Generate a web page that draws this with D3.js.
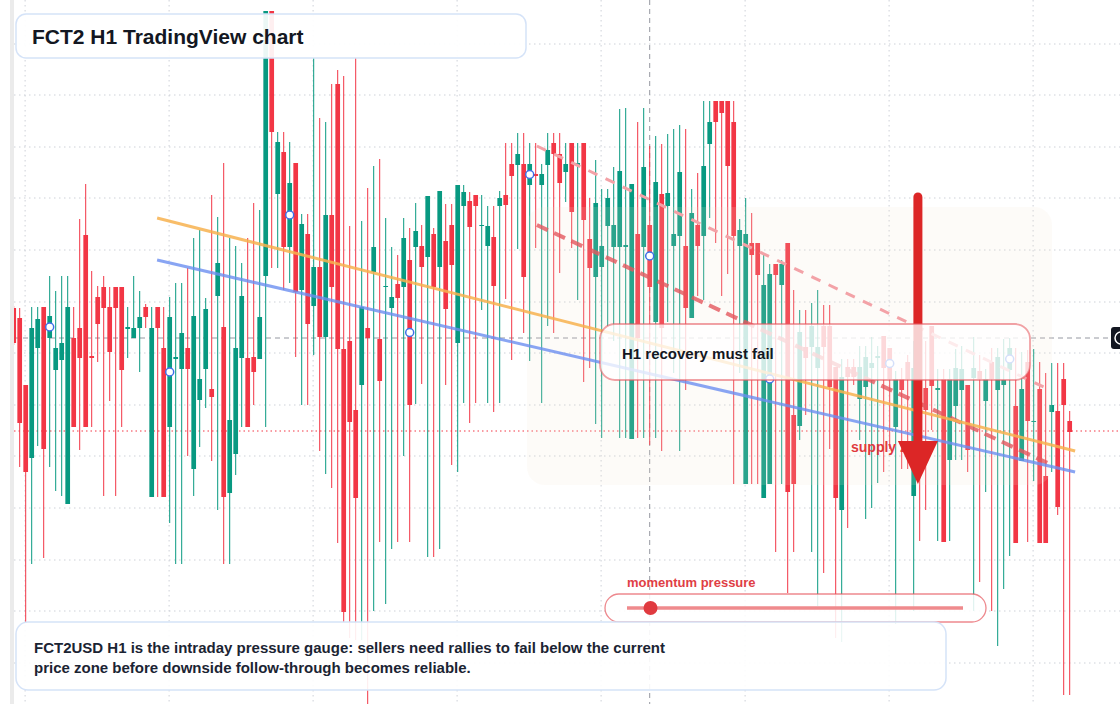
<!DOCTYPE html>
<html>
<head>
<meta charset="utf-8">
<script src="https://cdn.jsdelivr.net/npm/d3@7"></script>
<style>
  html, body { margin: 0; padding: 0; background: #ffffff; }
  svg { display: block; font-family: "Liberation Sans", Arial, sans-serif; }
</style>
</head>
<body>
<svg id="chart" width="1120" height="704"></svg>
<script>
// FCT2USD hourly candles (oldest -> newest)
const opens = [
  .692,.682,.615,.542,.652,.693,.662,.630,.640,.496,
  .662,.672,.765,.644,.703,.713,.693,.713,.713,.671,
  .662,.672,.693,.503,.693,.652,.573,.641,.631,.652,
  .531,.600,.631,.611,.704,.673,.507,.546,.642,.642,
  .643,.641,.724,.989,.806,.848,.753,.837,.710,.766,
  .694,.733,.663,.785,.916,.651,.659,.590,.615,.672,
  .728,.661,.713,.692,.716,.713,.740,.753,.754,.743,
  .766,.733,.759,.775,.657,.794,.799,.805,.774,.754,
  .763,.794,.805,.836,.835,.836,.815,.826,.815,.835,
  .857,.846,.828,.857,.835,.857,.761,.723,.733,.774,
  .753,.753,.753,.561,.766,.753,.775,.678,.806,.794,
  .754,.764,.754,.682,.775,.764,.856,.899,.899,.899,
  .878,.754,.516,.757,.757,.502,.516,.736,.715,.757,
  .585,.574,.653,.653,.632,.674,.674,.633,.490,.633,
  .633,.601,.613,.632,.642,.664,.652,.573,.621,.638,
  .504,.640,.612,.674,.610,.621,.540,.594,.610,.615,
  .622,.629,.599,.638,.610,.615,.630,.594,.539,.638,
  .578,.611,.524,.588,.589,.621,.579
];
const highs = [
  .694,.692,.615,.693,.693,.693,.724,.709,.724,.724,
  .693,.781,.816,.729,.714,.724,.713,.713,.713,.693,
  .724,.709,.696,.693,.693,.693,.703,.717,.717,.732,
  .762,.770,.702,.805,.783,.837,.762,.754,.737,.762,
  .797,.790,.989,.989,.868,.868,.858,.837,.786,.786,
  .942,.882,.878,.916,.930,.924,.774,.942,.779,.812,
  .834,.841,.782,.753,.745,.782,.772,.797,.775,.804,
  .772,.809,.796,.796,.815,.815,.808,.805,.805,.794,
  .794,.809,.857,.857,.867,.867,.857,.857,.836,.867,
  .867,.867,.857,.857,.857,.857,.802,.840,.811,.811,
  .833,.891,.892,.816,.878,.892,.854,.864,.856,.866,
  .871,.875,.871,.811,.827,.899,.899,.899,.899,.899,
  .899,.781,.802,.787,.757,.745,.736,.736,.740,.757,
  .710,.690,.690,.697,.710,.695,.695,.633,.641,.641,
  .641,.654,.654,.663,.654,.664,.652,.629,.632,.645,
  .659,.660,.659,.674,.631,.631,.631,.651,.654,.615,
  .663,.645,.631,.652,.652,.661,.662,.652,.648,.650,
  .651,.638,.627,.637,.637,.637,.589
];
const lows = [
  .655,.533,.378,.436,.554,.442,.533,.509,.504,.496,
  .573,.550,.573,.573,.638,.504,.599,.504,.573,.642,
  .662,.628,.672,.503,.503,.503,.477,.436,.436,.544,
  .504,.553,.592,.539,.490,.436,.436,.525,.573,.573,
  .595,.641,.573,.732,.732,.710,.717,.643,.595,.595,
  .645,.549,.526,.512,.457,.378,.362,.360,.360,.296,
  .389,.458,.396,.451,.458,.544,.458,.596,.616,.443,
  .443,.451,.615,.535,.528,.597,.577,.597,.690,.597,
  .588,.597,.701,.640,.751,.667,.639,.752,.597,.674,
  .667,.727,.798,.752,.700,.618,.632,.576,.562,.674,
  .659,.562,.562,.561,.562,.562,.555,.562,.549,.678,
  .627,.549,.610,.682,.704,.700,.782,.757,.704,.726,
  .516,.627,.516,.516,.516,.502,.516,.448,.516,.407,
  .448,.560,.585,.448,.394,.427,.551,.362,.358,.472,
  .615,.560,.481,.492,.517,.528,.551,.376,.531,.531,
  .389,.459,.490,.570,.459,.458,.459,.540,.540,.528,
  .389,.418,.508,.389,.354,.411,.444,.457,.539,.458,
  .519,.457,.457,.528,.485,.305,.305
];
const closes = [
  .657,.577,.528,.672,.681,.551,.684,.652,.657,.693,
  .573,.642,.573,.642,.676,.692,.648,.692,.630,.673,
  .672,.683,.683,.672,.672,.503,.683,.643,.667,.631,
  .684,.621,.691,.603,.737,.503,.580,.652,.704,.573,
  .628,.683,.989,.868,.858,.753,.817,.708,.776,.676,
  .733,.663,.785,.713,.651,.388,.578,.502,.693,.662,
  .753,.619,.714,.703,.702,.762,.595,.769,.733,.804,
  .713,.809,.691,.735,.815,.808,.773,.794,.775,.774,
  .714,.802,.795,.824,.846,.723,.836,.824,.826,.850,
  .846,.817,.836,.788,.837,.780,.732,.797,.754,.802,
  .775,.829,.755,.816,.662,.833,.713,.818,.672,.807,
  .766,.828,.692,.787,.754,.834,.878,.878,.887,.834,
  .764,.770,.766,.745,.725,.715,.726,.725,.736,.508,
  .516,.668,.642,.674,.653,.653,.613,.502,.623,.623,
  .623,.633,.643,.637,.644,.632,.621,.621,.610,.621,
  .632,.580,.590,.614,.612,.458,.621,.632,.631,.550,
  .632,.621,.621,.621,.643,.620,.652,.457,.611,.579,
  .579,.457,.457,.595,.493,.595,.568
];

// session grid (bar index) and price grid levels
const sessionTicks = [1.9, 25.9, 49.9, 73.9, 97.9, 121.9, 145.9, 169.9];
const priceGrid = [0.956, 0.905, 0.853, 0.802, 0.750, 0.698, 0.647, 0.595, 0.544, 0.492, 0.440, 0.389, 0.337];

// annotations: [bar index, price]
const orangeTrend = [[23.9, 0.782], [176.9, 0.549]];
const blueTrend = [[23.9, 0.740], [176.9, 0.528]];
const redChannel = [[87.2, 0.775], [173.0, 0.535]];
const paleChannel = [[87.2, 0.854], [172.7, 0.610]];
const supplyZone = { from: 85.55, to: 173.05, top: 0.793, bottom: 0.515 };
const markerBars = [6, 26, 46, 66, 86, 106, 126, 146, 166];
const crossBar = 106, crossPrice = 0.662;
const alertLevel = 0.569;
const arrowBar = 150.7, arrowFrom = 0.803, arrowTip = 0.516, arrowHeadBase = 0.559;
const momentum = 0.07;

const W = 1120, H = 704;
const GREEN = "#089981", RED = "#f23645";

const svg = d3.select("#chart");
const x = d3.scaleLinear().domain([0, opens.length - 1]).range([13.7, 1069.7]);
const y = d3.scaleLinear().domain([1, 0.296]).range([0, H]);

svg.append("rect").attr("width", W).attr("height", H).attr("fill", "#ffffff");
svg.append("rect").attr("x", 10).attr("width", 4).attr("height", H).attr("fill", "#ebebeb");

// grid
const grid = svg.append("g").attr("stroke", "#cdd1d8").attr("stroke-dasharray", "1.5 3.5");
grid.selectAll(".gx").data(sessionTicks).join("line")
  .attr("x1", d => x(d)).attr("x2", d => x(d)).attr("y1", 0).attr("y2", H);
grid.selectAll(".gy").data(priceGrid).join("line")
  .attr("x1", 14).attr("x2", W).attr("y1", d => y(d)).attr("y2", d => y(d));

// crosshair + alert level
svg.append("line").attr("x1", x(crossBar)).attr("x2", x(crossBar)).attr("y1", 0).attr("y2", H)
  .attr("stroke", "#9598a1").attr("stroke-dasharray", "5 4");
svg.append("line").attr("x1", 14).attr("x2", 1110).attr("y1", y(crossPrice)).attr("y2", y(crossPrice))
  .attr("stroke", "#9598a1").attr("stroke-dasharray", "5 4");
svg.append("line").attr("x1", 14).attr("x2", W).attr("y1", y(alertLevel)).attr("y2", y(alertLevel))
  .attr("stroke", RED).attr("stroke-dasharray", "1.5 3");

// candles
svg.append("clipPath").attr("id", "plot").append("rect").attr("x", 14).attr("y", 0).attr("width", W - 14).attr("height", H);
const bars = d3.range(opens.length).map(i => ({ i, o: opens[i], h: highs[i], l: lows[i], c: closes[i] }));
const cg = svg.append("g").attr("clip-path", "url(#plot)");
const bw = 4.7;
cg.selectAll(".wick").data(bars).join("line")
  .attr("x1", d => x(d.i)).attr("x2", d => x(d.i))
  .attr("y1", d => y(d.h)).attr("y2", d => y(d.l))
  .attr("stroke", d => d.c >= d.o ? GREEN : RED).attr("stroke-width", 1);
cg.selectAll(".body").data(bars).join("rect")
  .attr("x", d => x(d.i) - bw / 2).attr("width", bw)
  .attr("y", d => y(Math.max(d.o, d.c)))
  .attr("height", d => Math.max(1, Math.abs(y(d.o) - y(d.c))))
  .attr("fill", d => d.c >= d.o ? GREEN : RED);

// supply zone overlay
svg.append("rect")
  .attr("x", x(supplyZone.from)).attr("y", y(supplyZone.top))
  .attr("width", x(supplyZone.to) - x(supplyZone.from))
  .attr("height", y(supplyZone.bottom) - y(supplyZone.top))
  .attr("rx", 18).attr("fill", "rgb(240,225,210)").attr("fill-opacity", 0.15);

// trend lines
const line = d3.line().x(d => x(d[0])).y(d => y(d[1]));
svg.append("path").attr("d", line(paleChannel)).attr("fill", "none")
  .attr("stroke", "#f3a2a7").attr("stroke-width", 3).attr("stroke-dasharray", "10 9");
svg.append("path").attr("d", line(redChannel)).attr("fill", "none")
  .attr("stroke", "#e4585e").attr("stroke-opacity", 0.8).attr("stroke-width", 4).attr("stroke-dasharray", "12 7");
svg.append("path").attr("d", line(orangeTrend)).attr("fill", "none")
  .attr("stroke", "#f7b24f").attr("stroke-opacity", 0.85).attr("stroke-width", 3);
svg.append("path").attr("d", line(blueTrend)).attr("fill", "none")
  .attr("stroke", "#6b8ff0").attr("stroke-opacity", 0.8).attr("stroke-width", 3);

// markers at body midpoints
svg.selectAll(".mk").data(markerBars).join("circle")
  .attr("cx", d => x(d)).attr("cy", d => y((opens[d] + closes[d]) / 2)).attr("r", 4)
  .attr("fill", "#ffffff").attr("stroke", "#3d6fe8").attr("stroke-width", 1.5);

// supply zone label + arrow
svg.append("text").attr("x", 851).attr("y", 452).attr("fill", "#e0393e")
  .attr("font-size", 14).attr("font-weight", "bold").text("supply zone");
svg.append("line").attr("x1", x(arrowBar)).attr("x2", x(arrowBar))
  .attr("y1", y(arrowFrom)).attr("y2", y(arrowHeadBase) + 4)
  .attr("stroke", "#dc2626").attr("stroke-width", 9).attr("stroke-linecap", "round");
svg.append("path")
  .attr("d", `M${x(arrowBar) - 20},${y(arrowHeadBase)} L${x(arrowBar) + 20},${y(arrowHeadBase)} L${x(arrowBar)},${y(arrowTip)} Z`)
  .attr("fill", "#dc2626");

// H1 callout
svg.append("rect").attr("x", 600).attr("y", 324).attr("width", 430).attr("height", 56).attr("rx", 15)
  .attr("fill", "#ffffff").attr("fill-opacity", 0.78)
  .attr("stroke", "#e6555d").attr("stroke-opacity", 0.55).attr("stroke-width", 1.8);
svg.append("text").attr("x", 622).attr("y", 359).attr("fill", "#131722")
  .attr("font-size", 15).attr("font-weight", "bold").text("H1 recovery must fail");

// momentum gauge
const m = d3.scaleLinear().domain([0, 1]).range([627, 963]);
svg.append("text").attr("x", 627).attr("y", 587).attr("fill", "#e03e45")
  .attr("font-size", 13).attr("font-weight", "bold").text("momentum pressure");
svg.append("rect").attr("x", 605).attr("y", 594).attr("width", 381).attr("height", 28).attr("rx", 14)
  .attr("fill", "#ffffff").attr("fill-opacity", 0.85)
  .attr("stroke", "#e6555d").attr("stroke-opacity", 0.7).attr("stroke-width", 1.3);
svg.append("line").attr("x1", m(0)).attr("x2", m(1)).attr("y1", 608).attr("y2", 608)
  .attr("stroke", "#ef8a8d").attr("stroke-width", 3.5);
svg.append("circle").attr("cx", m(momentum)).attr("cy", 608).attr("r", 7).attr("fill", "#e03a3f");

// title + notes
svg.append("rect").attr("x", 16).attr("y", 14).attr("width", 510).attr("height", 44).attr("rx", 10)
  .attr("fill", "#ffffff").attr("fill-opacity", 0.92).attr("stroke", "#d5e3f8").attr("stroke-width", 1.5);
svg.append("text").attr("x", 32).attr("y", 44).attr("fill", "#131722")
  .attr("font-size", 21).attr("font-weight", "bold").text("FCT2 H1 TradingView chart");

svg.append("rect").attr("x", 16).attr("y", 622).attr("width", 930).attr("height", 68).attr("rx", 12)
  .attr("fill", "#ffffff").attr("fill-opacity", 0.9).attr("stroke", "#d5e3f8").attr("stroke-width", 1.5);
const note = ["FCT2USD H1 is the intraday pressure gauge: sellers need rallies to fail below the current",
              "price zone before downside follow-through becomes reliable."];
svg.selectAll(".note").data(note).join("text")
  .attr("x", 34).attr("y", (d, i) => 653 + i * 20).attr("fill", "#1b2433")
  .attr("font-size", 15).attr("font-weight", "bold").text(d => d);

// crosshair price tag (clipped at the edge)
svg.append("rect").attr("x", 1111).attr("y", 327).attr("width", 20).attr("height", 22).attr("rx", 3).attr("fill", "#131722");
svg.append("circle").attr("cx", 1121).attr("cy", y(crossPrice)).attr("r", 6)
  .attr("fill", "none").attr("stroke", "#ffffff").attr("stroke-width", 1.5);
</script>
</body>
</html>
